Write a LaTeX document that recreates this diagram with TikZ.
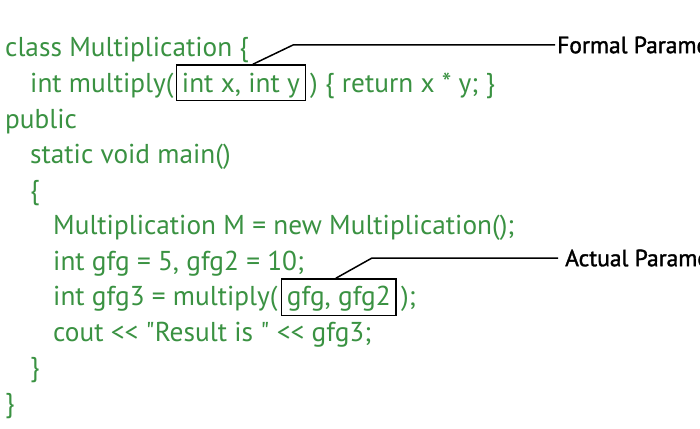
\documentclass[tikz,border=0pt]{standalone}
\usepackage{fontspec}
\newfontfamily\codefont{PT Sans}
\newfontfamily\lblfont{PT Sans}[FakeBold=1.5]
\definecolor{codegreen}{RGB}{58,146,66}
\begin{document}
\begin{tikzpicture}[x=1pt,y=-1pt,
  code/.style={anchor=base west,inner sep=0pt,text=codegreen,font=\codefont\fontsize{27.3}{30}\selectfont},
  parbox/.style={draw=black,line width=1.5pt,anchor=base west,inner xsep=5.5pt,inner ysep=0pt,text=codegreen,font=\codefont\fontsize{27.3}{30}\selectfont},
  lbl/.style={anchor=west,inner sep=0pt,font=\lblfont\fontsize{23.5}{28}\selectfont},
  conn/.style={draw=black,line width=1.5pt}]
\useasboundingbox (0,0) rectangle (700,428);
\clip (0,0) rectangle (700,428);
\fill[white] (0,0) rectangle (700,428);
% lines
\node[code] (l1) at (5,56.5) {class Multiplication \{};
\node[code] (l2a) at (30,92.5) {int multiply(};
\node[parbox,text height=27.5pt,text depth=8pt] (fp) at ([xshift=2pt]l2a.base east) {int x, int y};
\node[code] (l2b) at ([xshift=4pt]fp.base east) {) \{ return x * y; \}};
\node[code] (l3) at (5,128) {public};
\node[code] (l4) at (30,163.5) {static void main()};
\node[code] (l5) at (30,199) {\{};
\node[code] (l6) at (53,234.5) {Multiplication M = new Multiplication();};
\node[code] (l7) at (53,270) {int gfg = 5, gfg2 = 10;};
\node[code] (l8a) at (53,305.5) {int gfg3 = multiply(};
\node[parbox,text height=26.5pt,text depth=10pt] (ap) at ([xshift=3pt]l8a.base east) {gfg, gfg2};
\node[code] (l8b) at ([xshift=4pt]ap.base east) {);};
\node[code] (l9) at (53,341) {cout << "Result is " << gfg3;};
\node[code] (l10) at (30,376.5) {\}};
\node[code] (l11) at (5,412) {\}};
% labels
\node[lbl] (flbl) at (557,45) {Formal Parameters};
\node[lbl] (albl) at (565,258) {Actual Parameters};
% connectors
\coordinate (fpk) at (293,45);
\coordinate (apk) at (372,258);
\draw[conn] ([xshift=12pt]fp.north) -- (fpk) -- ([xshift=-2pt]flbl.west);
\draw[conn] ([xshift=-3pt]ap.north) -- (apk) -- ([xshift=-7pt]albl.west);
\end{tikzpicture}
\end{document}
